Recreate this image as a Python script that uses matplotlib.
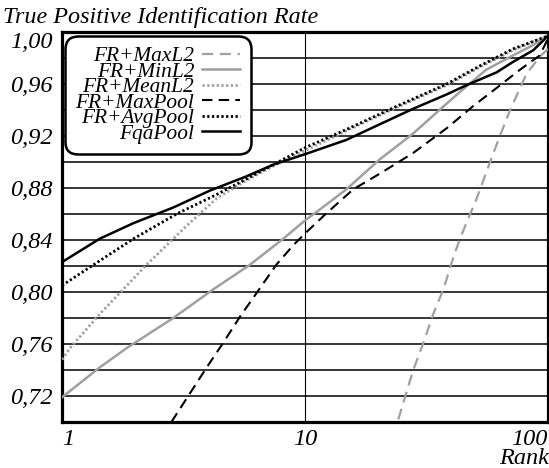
import matplotlib
matplotlib.use("Agg")
import matplotlib.pyplot as plt
from matplotlib.ticker import FixedLocator, NullLocator

plt.rcParams["font.family"] = ["Liberation Serif", "DejaVu Serif"]
plt.rcParams["font.style"] = "italic"

# data (rank, true positive identification rate)
maxl2_rank = [24.2, 27.9, 30.7, 33.7, 37.1, 40.7, 43.4, 50.9, 59.6, 69.8, 81.7, 92.5, 100]
maxl2_val = [0.702, 0.740, 0.761, 0.783, 0.802, 0.826, 0.841, 0.872, 0.907, 0.940, 0.968, 0.981, 0.987]

minl2_rank = [1, 1.43, 1.85, 2.87, 4.19, 5.94, 8.14, 10, 12.0, 14.8, 20.3, 27.9, 38.3, 46.1, 55.7, 71.8, 87, 100]
minl2_val = [0.719, 0.742, 0.757, 0.780, 0.802, 0.821, 0.841, 0.855, 0.866, 0.879, 0.902, 0.922, 0.945, 0.958, 0.971, 0.982, 0.990, 0.997]

meanl2_rank = [1, 1.08, 1.43, 2.23, 3.26, 4.33, 5.75, 7.62, 9.83, 14.8, 23.9, 38.3, 52.5, 71.8, 100]
meanl2_val = [0.748, 0.757, 0.783, 0.821, 0.851, 0.872, 0.886, 0.898, 0.908, 0.924, 0.942, 0.959, 0.973, 0.986, 0.997]

maxpool_rank = [2.82, 3.36, 3.94, 4.61, 5.40, 6.53, 7.62, 8.95, 10, 12.0, 15.8, 20.3, 27.9, 38.3, 49.2, 61.5, 76.7, 92.5, 100]
maxpool_val = [0.700, 0.722, 0.742, 0.761, 0.781, 0.803, 0.821, 0.836, 0.845, 0.859, 0.879, 0.891, 0.907, 0.926, 0.943, 0.957, 0.971, 0.982, 0.995]

avgpool_rank = [1, 1.35, 1.97, 2.96, 4.33, 5.75, 7.41, 10, 14.8, 23.9, 38.3, 52.5, 71.8, 100]
avgpool_val = [0.805, 0.821, 0.841, 0.860, 0.875, 0.887, 0.898, 0.911, 0.925, 0.943, 0.960, 0.974, 0.987, 0.997]

fqa_rank = [1, 1.43, 1.97, 2.87, 4.06, 5.75, 7.41, 10, 14.8, 20.3, 27.9, 38.3, 46.1, 61.5, 71.8, 87, 100]
fqa_val = [0.823, 0.841, 0.853, 0.865, 0.878, 0.889, 0.898, 0.906, 0.917, 0.929, 0.941, 0.952, 0.959, 0.969, 0.977, 0.986, 0.997]

y_ticks = [0.72, 0.76, 0.80, 0.84, 0.88, 0.92, 0.96, 1.00]
y_tick_labels = ["0,72", "0,76", "0,80", "0,84", "0,88", "0,92", "0,96", "1,00"]
y_grid = [0.72, 0.74, 0.76, 0.78, 0.80, 0.82, 0.84, 0.86, 0.88, 0.90, 0.92, 0.94, 0.96, 0.98]
x_ticks = [1, 10, 100]
x_tick_labels = ["1", "10", "100"]

GRAY = "#a0a0a0"

fig = plt.figure(figsize=(5.49, 4.68), dpi=100)
ax = fig.add_axes([62 / 549, 1 - 422 / 468, 486 / 549, 390 / 468])
ax.set_xscale("log")
ax.set_xlim(1, 100)
ax.set_ylim(0.70, 1.00)

for yv in y_grid:
    ax.axhline(yv, color="black", lw=1.1, zorder=1)
ax.axvline(10, color="black", lw=0.8, zorder=1)

ax.plot(maxl2_rank, maxl2_val, color=GRAY, lw=1.6, dashes=(5, 3), label="FR+MaxL2", zorder=3)
ax.plot(minl2_rank, minl2_val, color=GRAY, lw=1.8, label="FR+MinL2", zorder=3)
ax.plot(meanl2_rank, meanl2_val, color=GRAY, lw=2.0, dashes=(0.8, 0.9), label="FR+MeanL2", zorder=3)
ax.plot(maxpool_rank, maxpool_val, color="black", lw=1.5, dashes=(5, 3), label="FR+MaxPool", zorder=4)
ax.plot(avgpool_rank, avgpool_val, color="black", lw=2.0, dashes=(0.8, 0.9), label="FR+AvgPool", zorder=4)
ax.plot(fqa_rank, fqa_val, color="black", lw=1.8, label="FqaPool", zorder=4)

for side in ["left", "bottom", "right", "top"]:
    ax.spines[side].set_linewidth(2.3)

ax.yaxis.set_major_locator(FixedLocator(y_ticks))
ax.set_yticklabels(y_tick_labels, fontsize=17.5)
ax.xaxis.set_major_locator(FixedLocator(x_ticks))
ax.xaxis.set_minor_locator(NullLocator())
ax.set_xticklabels(x_tick_labels, fontsize=17.5)
ax.tick_params(axis="both", length=0)
ax.tick_params(axis="y", pad=7)
ax.tick_params(axis="x", pad=5)

xl = ax.get_xticklabels()
xl[0].set_horizontalalignment("left")
xl[2].set_horizontalalignment("right")
ax.get_yticklabels()[-1].set_verticalalignment("top")

fig.text(549 / 549, 1 - 459 / 468, "Rank", ha="right", va="center", fontsize=17.5)
fig.text(3 / 549, 1 - 18 / 468, "True Positive Identification Rate", ha="left", va="center", fontsize=17.4)

leg = ax.legend(loc="upper left", bbox_to_anchor=(0.01, 0.985), markerfirst=False,
                fontsize=15.4, labelspacing=-0.21, handlelength=1.8, handletextpad=0.35,
                borderpad=0.4, borderaxespad=0.0, fancybox=True, framealpha=1,
                edgecolor="black")
leg.get_frame().set_linewidth(1.8)
leg.get_frame().set_boxstyle("round", pad=0.1, rounding_size=0.6)
for t in leg.get_texts():
    t.set_horizontalalignment("right")
leg.set_zorder(10)

fig.savefig("out.png", dpi=100)
